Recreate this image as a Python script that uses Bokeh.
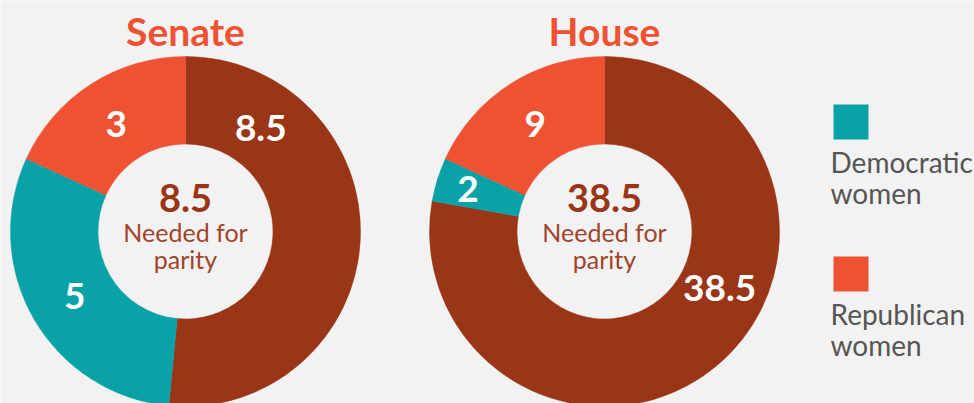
import math
from bokeh.plotting import figure
from bokeh.models import Range1d, ColumnDataSource
from bokeh.embed import file_html
from bokeh.resources import INLINE
from bokeh.core.properties import value

# ---------------- data ----------------
chambers = ["Senate", "House"]
parity_needed = [8.5, 38.5]
democratic_women = [5, 2]
republican_women = [3, 9]
center_caption = ["Needed for", "parity"]
legend_labels = [["Democratic", "women"], ["Republican", "women"]]

# ---------------- style / layout ----------------
W, H = 974, 403
BG = "#f2f2f2"
BROWN = "#9a3617"
TEAL = "#09a2a7"
RED = "#ee5232"
CAPTION = "#a0442a"
LEGEND_TEXT = "#555555"
FONT = "Lato"

centers_x = [185, 604]
center_y = H - 231
R_OUT, R_IN = 175, 87.5
parity_label_angle = {"Senate": 36, "House": 116}   # degrees clockwise from top
label_radius = 128

p = figure(width=W, height=H, x_range=Range1d(0, W), y_range=Range1d(0, H),
           output_backend="svg", toolbar_location=None, min_border=0,
           x_axis_location=None, y_axis_location=None)
p.grid.visible = False
p.outline_line_color = None
p.background_fill_color = BG
p.border_fill_color = BG

wx, wy, ws, we, wc = [], [], [], [], []
lx, ly, lt = [], [], []
for i, name in enumerate(chambers):
    vals = [parity_needed[i], democratic_women[i], republican_women[i]]
    cols = [BROWN, TEAL, RED]
    total = sum(vals)
    cum = 0.0
    for k, (v, c) in enumerate(zip(vals, cols)):
        t0 = cum / total * 360
        t1 = (cum + v) / total * 360
        cum += v
        wx.append(centers_x[i]); wy.append(center_y)
        ws.append(math.radians(90 - t1)); we.append(math.radians(90 - t0))
        wc.append(c)
        mid = parity_label_angle[name] if k == 0 else (t0 + t1) / 2
        r = label_radius if k != 1 or v / total > 0.1 else 143
        lx.append(centers_x[i] + r * math.sin(math.radians(mid)))
        ly.append(center_y + r * math.cos(math.radians(mid)))
        lt.append(f"{v:g}")

p.annular_wedge(x="x", y="y", inner_radius=R_IN, outer_radius=R_OUT,
                start_angle="s", end_angle="e", fill_color="c", line_color="c",
                line_width=0.5,
                source=ColumnDataSource(dict(x=wx, y=wy, s=ws, e=we, c=wc)))

# slice labels
p.text(x=lx, y=ly, text=lt, text_color="white", text_font=value(FONT),
       text_font_style="bold", text_font_size="37px", text_align="center",
       text_baseline="middle")

# titles
p.text(x=centers_x, y=[H - 30] * 2, text=chambers, text_color=RED,
       text_font=value(FONT), text_font_style="bold", text_font_size="39px",
       text_align="center", text_baseline="middle")

# center texts
p.text(x=centers_x, y=[H - 197] * 2, text=[f"{v:g}" for v in parity_needed],
       text_color=BROWN, text_font=value(FONT), text_font_style="bold",
       text_font_size="38px", text_align="center", text_baseline="middle")
p.text(x=centers_x, y=[H - 231] * 2, text=[center_caption[0]] * 2,
       text_color=CAPTION, text_font=value(FONT), text_font_size="25px",
       text_align="center", text_baseline="middle")
p.text(x=centers_x, y=[H - 258] * 2, text=[center_caption[1]] * 2,
       text_color=CAPTION, text_font=value(FONT), text_font_size="25px",
       text_align="center", text_baseline="middle")

# legend
leg_colors = [TEAL, RED]
sq_top = [104, 256]
p.rect(x=[850.5] * 2, y=[H - t - 17.5 for t in sq_top], width=35, height=35,
       fill_color=leg_colors, line_color=None)
tx, ty, tt = [], [], []
for j, lines in enumerate(legend_labels):
    for m, line in enumerate(lines):
        tx.append(830)
        ty.append(H - (sq_top[j] + 57 + 31.5 * m))
        tt.append(line)
p.text(x=tx, y=ty, text=tt, text_color=LEGEND_TEXT, text_font=value(FONT),
       text_font_size="28px", text_align="left", text_baseline="middle")

open("out.html", "w").write(file_html(p, INLINE))
